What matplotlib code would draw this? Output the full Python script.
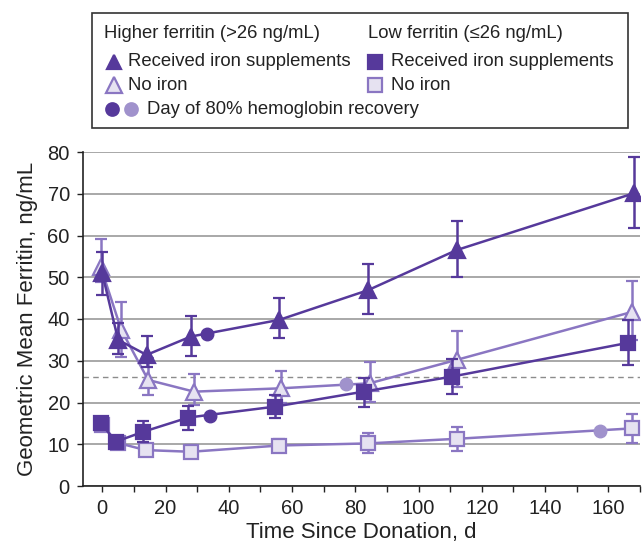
import matplotlib
matplotlib.use("Agg")
import matplotlib.pyplot as plt
from matplotlib.lines import Line2D
from matplotlib.patches import Rectangle

plt.rcParams['font.family'] = ['Liberation Sans', 'DejaVu Sans']

DARK = '#56399B'
LIGHT = '#8A76C2'
FILL = '#E6E2F1'
DOT_LIGHT = '#A092CC'

# higher ferritin, received iron
hi_iron_x = [0, 5, 14, 28, 56, 84, 112, 168]
hi_iron_y = [50.9, 35.0, 31.4, 35.8, 39.8, 46.9, 56.5, 70.1]
hi_iron_lo = [45.7, 31.6, 28.6, 31.2, 35.5, 41.2, 50.1, 61.7]
hi_iron_hi = [56.1, 39.0, 35.9, 40.7, 45.0, 53.2, 63.5, 78.9]

# higher ferritin, no iron
hi_none_x = [-0.5, 6, 14.5, 29, 56.5, 84.5, 112, 167.5]
hi_none_y = [52.5, 37.4, 25.4, 22.6, 23.4, 24.6, 30.2, 41.7]
hi_none_lo = [48.9, 31.0, 21.8, 19.5, 20.0, 20.2, 23.8, 35.0]
hi_none_hi = [59.2, 44.1, 30.6, 26.8, 27.6, 29.8, 37.2, 49.1]

# low ferritin, received iron
lo_iron_x = [-0.5, 4.2, 13, 27.2, 54.5, 82.6, 110.5, 166.3]
lo_iron_y = [15.2, 10.6, 13.0, 16.4, 19.0, 22.6, 26.2, 34.3]
lo_iron_lo = [14.0, 9.5, 10.6, 13.4, 16.2, 19.0, 22.0, 29.0]
lo_iron_hi = [16.4, 11.8, 15.6, 19.2, 21.8, 25.8, 30.5, 39.8]

# low ferritin, no iron
lo_none_x = [0, 5, 13.7, 28, 56, 84, 112, 167.5]
lo_none_y = [14.5, 10.3, 8.6, 8.2, 9.7, 10.2, 11.3, 13.8]
lo_none_lo = [13.5, 9.5, 7.3, 6.6, 8.1, 7.8, 8.4, 10.4]
lo_none_hi = [15.5, 11.2, 10.0, 9.9, 11.3, 12.6, 14.2, 17.2]

# day of 80% hemoglobin recovery
rec_iron_x = [33, 34]
rec_iron_y = [36.3, 16.8]
rec_none_x = [77, 157.5]
rec_none_y = [24.4, 13.2]

threshold = 26

fig = plt.figure(figsize=(6.42, 5.45), dpi=100)
ax = fig.add_axes([83 / 642, 59 / 545, 557 / 642, 334 / 545])


def series(x, y, lo, hi, color, face, marker, ms, z):
    yerr = [[v - l for v, l in zip(y, lo)], [h - v for v, h in zip(y, hi)]]
    ax.errorbar(x, y, yerr=yerr, color=color, lw=1.8, elinewidth=1.8,
                capsize=4.5, capthick=1.8, marker=marker, ms=ms,
                mfc=face, mec=color, mew=1.6, zorder=z)


series(lo_none_x, lo_none_y, lo_none_lo, lo_none_hi, LIGHT, FILL, 's', 10, 3)
series(hi_none_x, hi_none_y, hi_none_lo, hi_none_hi, LIGHT, FILL, '^', 11, 4)
series(lo_iron_x, lo_iron_y, lo_iron_lo, lo_iron_hi, DARK, DARK, 's', 10, 5)
series(hi_iron_x, hi_iron_y, hi_iron_lo, hi_iron_hi, DARK, DARK, '^', 11, 6)

ax.plot(rec_iron_x, rec_iron_y, 'o', color=DARK, ms=9, ls='none', zorder=7)
ax.plot(rec_none_x, rec_none_y, 'o', color=DOT_LIGHT, ms=9, ls='none', zorder=7)

ax.axhline(threshold, color='#8c8c8c', lw=1, ls=(0, (4, 3)), zorder=1)

ax.set_xlim(-6.1, 170)
ax.set_ylim(0, 80)
ax.set_yticks(range(0, 81, 10))
ax.set_xticks(range(0, 161, 20))
ax.set_xticks(range(10, 171, 20), minor=True)
ax.yaxis.grid(True, color='#9a9a9a', lw=1.2, zorder=0)
ax.set_axisbelow(True)
for s in ['top', 'right']:
    ax.spines[s].set_visible(False)
for s in ['left', 'bottom']:
    ax.spines[s].set_color('#222222')
    ax.spines[s].set_linewidth(1.2)
ax.tick_params(axis='both', which='both', direction='out', length=4.5,
               width=1, color='#222222', labelsize=14.5, pad=5,
               labelcolor='#222222')
ax.set_xlabel('Time Since Donation, d', fontsize=16, color='#222222', labelpad=3)
ax.set_ylabel('Geometric Mean Ferritin, ng/mL', fontsize=16, color='#222222', labelpad=7)

# legend box drawn in figure pixels
W, H = 642, 545


def fx(px):
    return px / W


def fy(py):
    return 1 - py / H


fig.add_artist(Rectangle((fx(92), fy(128)), fx(628) - fx(92), fy(13) - fy(128),
                         transform=fig.transFigure, fill=False,
                         edgecolor='#333333', lw=1.2))
fs = 13.3
fig.text(fx(104), fy(33), 'Higher ferritin (>26 ng/mL)', fontsize=fs, va='center', color='#222222')
fig.text(fx(368), fy(33), 'Low ferritin (\u226426 ng/mL)', fontsize=fs, va='center', color='#222222')


def lmark(px, py, marker, ms, face, edge):
    fig.add_artist(Line2D([fx(px)], [fy(py)], transform=fig.transFigure,
                          marker=marker, ms=ms, mfc=face, mec=edge, mew=1.6, ls='none'))


lmark(114, 62, '^', 10, DARK, DARK)
lmark(114, 85, '^', 11, FILL, LIGHT)
lmark(375, 62, 's', 10, DARK, DARK)
lmark(375, 85, 's', 10, FILL, LIGHT)
lmark(112, 109, 'o', 9, DARK, DARK)
lmark(131, 109, 'o', 9, DOT_LIGHT, DOT_LIGHT)
fig.text(fx(128), fy(62), 'Received iron supplements', fontsize=fs, va='center', color='#222222')
fig.text(fx(128), fy(85), 'No iron', fontsize=fs, va='center', color='#222222')
fig.text(fx(391), fy(62), 'Received iron supplements', fontsize=fs, va='center', color='#222222')
fig.text(fx(391), fy(85), 'No iron', fontsize=fs, va='center', color='#222222')
fig.text(fx(147), fy(109), 'Day of 80% hemoglobin recovery', fontsize=fs, va='center', color='#222222')

fig.savefig('out.png', dpi=100)
